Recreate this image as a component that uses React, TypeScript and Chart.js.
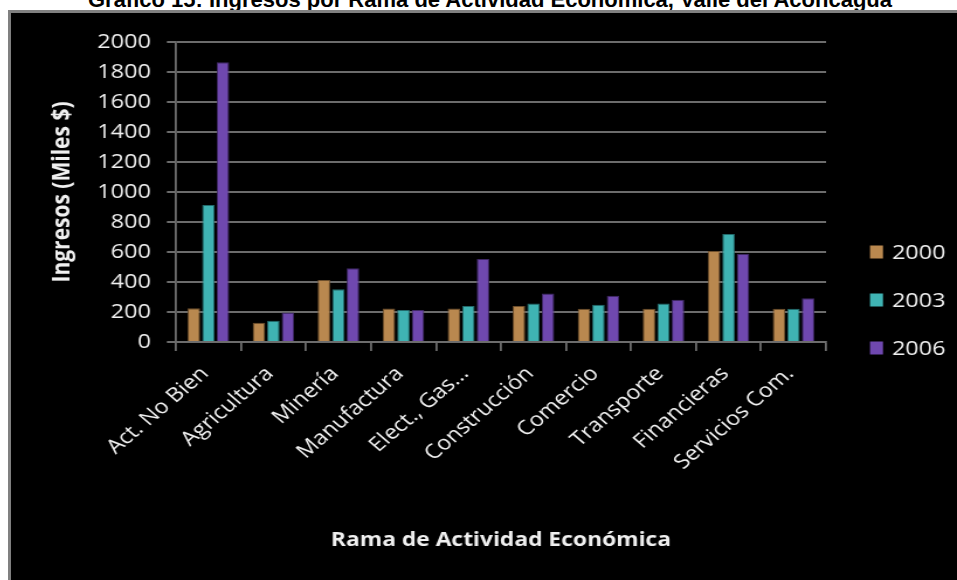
import React, { useEffect, useRef } from "react";
import { Chart, registerables } from "chart.js";

Chart.register(...registerables);

const chartTitle = "Gráfico 15: Ingresos por Rama de Actividad Económica, Valle del Aconcagua";
const yTitle = "Ingresos (Miles $)";
const xTitle = "Rama de Actividad Económica";

const categories = [
  "Act. No Bien",
  "Agricultura",
  "Minería",
  "Manufactura",
  "Elect., Gas...",
  "Construcción",
  "Comercio",
  "Transporte",
  "Financieras",
  "Servicios Com.",
];

const seriesLabels = ["2000", "2003", "2006"];
const values2000 = [225, 129, 413, 224, 224, 240, 222, 222, 607, 222];
const values2003 = [913, 142, 351, 213, 240, 256, 249, 256, 720, 222];
const values2006 = [1865, 196, 491, 213, 553, 324, 309, 282, 589, 291];

const yMin = 0;
const yMax = 2000;
const yStep = 200;

const colors = ["#B9884F", "#3FB3B3", "#6F48AF"];
const borders = ["#6e4f2c", "#236a6b", "#3f2866"];

const FONT = '"Open Sans", "DejaVu Sans", sans-serif';
const TEXT = "#f0f0f0";
const GRID = "#6c6c6c";

// the original picture is stretched horizontally; draw narrow, display wide
const CSS_W = 946;
const CSS_H = 567;
const INNER_W = 809;

const overlayPlugin = {
  id: "overlay",
  afterDraw(chart: any) {
    const ctx = chart.ctx;
    const ca = chart.chartArea;
    ctx.save();
    ctx.fillStyle = TEXT;
    ctx.textAlign = "center";
    ctx.textBaseline = "middle";
    ctx.font = `bold 19.5px ${FONT}`;
    ctx.fillText(xTitle, (ca.left + ca.right) / 2, ca.bottom + 198);
    ctx.save();
    ctx.translate(44, (ca.top + ca.bottom) / 2);
    ctx.rotate(-Math.PI / 2);
    ctx.font = `bold 21px ${FONT}`;
    ctx.fillText(yTitle, 0, 0);
    ctx.restore();
    // legend
    ctx.textAlign = "left";
    ctx.font = `20px ${FONT}`;
    seriesLabels.forEach((lab, i) => {
      const cy = 239 + i * 48;
      ctx.fillStyle = colors[i];
      ctx.fillRect(ca.right + 37.6, cy - 6.5, 11.1, 13);
      ctx.fillStyle = TEXT;
      ctx.fillText(lab, ca.right + 56.4, cy + 1);
    });
    ctx.restore();
  },
};

export default function App() {
  const ref = useRef<HTMLCanvasElement | null>(null);

  useEffect(() => {
    if (!ref.current) return;
    const data = [values2000, values2003, values2006];
    const chart = new Chart(ref.current, {
      type: "bar",
      data: {
        labels: categories,
        datasets: seriesLabels.map((lab, i) => ({
          label: lab,
          data: data[i],
          backgroundColor: colors[i],
          borderColor: borders[i],
          borderWidth: 1,
          categoryPercentage: 0.67,
          barPercentage: 0.86,
        })),
      },
      options: {
        responsive: false,
        maintainAspectRatio: false,
        animation: false,
        devicePixelRatio: 1,
        layout: { padding: { top: 29, right: 112, left: 0, bottom: 0 } },
        plugins: {
          legend: { display: false },
          tooltip: { enabled: false },
          title: { display: false },
        },
        scales: {
          x: {
            afterFit(scale: any) {
              scale.height = 238;
            },
            grid: {
              display: true,
              drawOnChartArea: false,
              drawTicks: true,
              tickLength: 9,
              color: GRID,
              lineWidth: 1.8,
            },
            border: { color: GRID, width: 1.8 },
            ticks: {
              color: TEXT,
              font: { family: FONT, size: 20 },
              minRotation: 45,
              maxRotation: 45,
              padding: 11,
              labelOffset: -3,
              autoSkip: false,
            },
          },
          y: {
            min: yMin,
            max: yMax,
            afterFit(scale: any) {
              scale.width = 141;
            },
            grid: {
              color: GRID,
              lineWidth: 2,
              drawTicks: true,
              tickLength: 7.7,
            },
            border: { color: GRID, width: 1.8 },
            ticks: {
              stepSize: yStep,
              color: TEXT,
              font: { family: FONT, size: 20 },
              padding: 13.7,
              callback: (v: any) => String(v),
            },
          },
        },
      },
      plugins: [overlayPlugin],
    });
    return () => chart.destroy();
  }, []);

  return (
    <div style={{ position: "absolute", left: 0, top: 0, width: 957, height: 580, overflow: "hidden", background: "#fff" }}>
      <div
        style={{
          position: "absolute",
          left: 0,
          top: -10.6,
          width: 980,
          textAlign: "center",
          fontFamily: '"Liberation Sans", Arial, sans-serif',
          fontWeight: "bold",
          fontSize: 22,
          lineHeight: "22px",
          color: "#000",
          whiteSpace: "nowrap",
        }}
      >
        {chartTitle}
      </div>
      <div
        style={{
          position: "absolute",
          left: 8,
          top: 10,
          width: 949,
          height: 570,
          background: "#000",
          borderTop: "3px solid #808080",
          borderLeft: "3px solid #808080",
          boxSizing: "border-box",
        }}
      >
        <canvas
          ref={ref}
          width={INNER_W}
          height={CSS_H}
          style={{ display: "block", width: CSS_W, height: CSS_H }}
        />
      </div>
    </div>
  );
}
